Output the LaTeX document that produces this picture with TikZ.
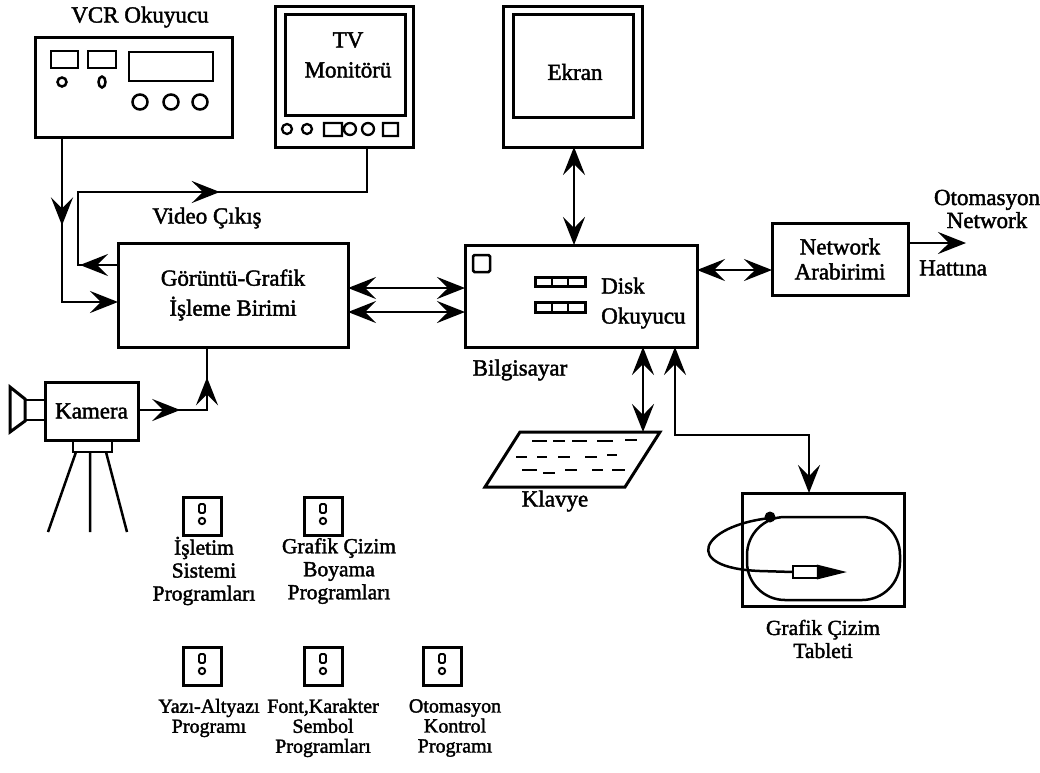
\documentclass[tikz,border=0pt]{standalone}
\usepackage{fontspec}
\setmainfont{Liberation Serif}[FakeBold=1.8]
\usetikzlibrary{arrows.meta,decorations.markings}

\newcommand\mainfs{\fontsize{23}{30}\selectfont}
\newcommand\netfs{\fontsize{23}{25}\selectfont}
\newcommand\smallfs{\fontsize{21.5}{23}\selectfont}
\newcommand\smallfsb{\fontsize{20}{20}\selectfont}

\tikzset{
  >={Stealth[length=28pt,width=22pt,inset=11pt]},
  box/.style={draw, line width=3pt, inner sep=0pt, outer sep=0pt, align=center, font=\mainfs},
  wire/.style={line width=2.6pt, line join=miter},
  part/.style={line width=2.5pt, line join=miter},
  midtip/.style={postaction={decorate, decoration={markings, mark=at position #1 with {\arrow{>}}}}},
  lbl/.style={align=center, inner sep=0pt, font=\mainfs},
  slbl/.style={align=center, inner sep=0pt, font=\smallfs},
  floppy/.pic={
    \draw[line width=3pt] (-19,-19) rectangle (19,19);
    \draw[line width=1.9pt, rounded corners=1.5pt] (-3,-12) rectangle (3,-3);
    \draw[line width=1.9pt] (0,5) circle (3.2pt);
  }
}

\begin{document}
\begin{tikzpicture}[x=1pt,y=-1pt]
\useasboundingbox[fill=white] (0,0) rectangle (1040,772);

% ---------- VCR player ----------
\node[box, minimum width=197pt, minimum height=100pt] (vcr) at (133.5,87) {};
\node[lbl] (vcrlbl) at (140,17) {VCR Okuyucu};
\draw[part] (51,51) rectangle (78,68) (88,51) rectangle (116,68) (129,52) rectangle (213,81);
\draw[part] (62,82) circle (4.5pt);
\draw[part] (102,82) ellipse [x radius=3.5pt, y radius=5.5pt];
\draw[part] (140,102) circle (7.5pt) (171,102) circle (7.5pt) (200,102) circle (7.5pt);

% ---------- TV monitor ----------
\node[box, minimum width=138pt, minimum height=141pt] (tv) at (344,76.5) {};
\node[box, minimum width=120pt, minimum height=101pt] (tvscr) at (345,64.5) {};
\node[lbl] (tvlbl) at (348,55) {TV\\Monitörü};
\draw[line width=2.3pt] (287,129) circle (5pt) (307,129) circle (5pt)
  (324,123) rectangle (342,136) (350,129) circle (6pt) (368,129) circle (6pt)
  (383,123) rectangle (398,136);

% ---------- computer screen ----------
\node[box, minimum width=139pt, minimum height=141pt] (ekr) at (572.5,76.5) {};
\node[box, minimum width=120pt, minimum height=103pt] (ekrscr) at (573,65.5) {};
\node[lbl] (ekrlbl) at (575,72) {Ekran};

% ---------- image/graphics processing unit ----------
\node[box, minimum width=230pt, minimum height=104pt] (grf) at (233,295) {Görüntü-Grafik\\İşleme Birimi};
\node[lbl] (vidlbl) at (207,218) {Video Çıkış};

% ---------- computer ----------
\node[box, minimum width=232pt, minimum height=102pt] (bil) at (581,296) {};
\draw[part, rounded corners=1.5pt] (473,255) rectangle (490,272);
\draw[line width=3pt] (535,277) rectangle (585,286) (535,302) rectangle (585,312);
\draw[line width=1.6pt] (552,277) -- (552,286) (568,277) -- (568,286)
  (552,302) -- (552,312) (568,302) -- (568,312);
\node[lbl, align=left, anchor=west] (disk) at (601,303) {Disk\\Okuyucu};
\node[lbl] (billbl) at (520,370) {Bilgisayar};

% ---------- network interface ----------
\node[box, minimum width=136pt, minimum height=72pt, font=\netfs] (net) at (840,259) {Network\\Arabirimi};
\node[lbl, font=\fontsize{23}{23}\selectfont] (otolbl) at (987,209) {Otomasyon\\Network};
\node[lbl, anchor=west] (hatlbl) at (919,268) {Hattına};

% ---------- camera on tripod ----------
\node[box, minimum width=93pt, minimum height=58pt] (cam) at (91.5,411) {Kamera};
\draw[part] (25,400) rectangle (45,420);
\draw[line width=3pt, line join=miter] (10,387) -- (25,399) -- (25,421) -- (10,432) -- cycle;
\draw[part] (73,440) rectangle (112,452);
\draw[part] (76,452) -- (48,532) (90,452) -- (90,532) (106,452) -- (127,532);

% ---------- keyboard ----------
\draw[line width=3pt, line join=miter] (520,432) -- (660,432) -- (625,487) -- (485,487) -- cycle;
\draw[line width=1.9pt]
  (532,441) -- (547,441) (553,441) -- (565,441) (572,441) -- (587,441) (597,441) -- (613,441) (625,440) -- (637,440)
  (516,457) -- (527,457) (537,457) -- (547,457) (558,457) -- (570,457) (585,457) -- (597,457) (607,455) -- (617,455)
  (522,470) -- (537,470) (543,473) -- (555,473) (565,470) -- (577,470) (592,470) -- (603,470) (612,470) -- (625,470);
\node[lbl] (kblbl) at (555,501) {Klavye};
\coordinate (kbtop) at (643,432);

% ---------- graphics tablet ----------
\node[box, minimum width=162pt, minimum height=113pt] (tab) at (823,549.5) {};
\draw[part, rounded corners=38pt] (747,517) rectangle (900,600);
\draw[part] (770,518) .. controls (700,526) and (680,568) .. (760,571) -- (793,572);
\draw[line width=2.3pt, fill=white] (793,566) rectangle (818,578);
\draw[line width=2.3pt, fill=black, line join=miter] (818,566) -- (842,572) -- (818,578) -- cycle;
\fill (770,517) circle (5.5pt);
\node[slbl] (tablbl) at (823,639) {Grafik Çizim\\Tableti};

% ---------- program disks ----------
\pic at (202,516) {floppy};
\pic at (323,516) {floppy};
\pic at (202,666) {floppy};
\pic at (323,666) {floppy};
\pic at (442,666) {floppy};
\node[slbl] (p1) at (204,571) {İşletim\\Sistemi\\Programları};
\node[slbl] (p2) at (339,571) {Grafik Çizim\\Boyama\\Programları};
\node[slbl, font=\smallfsb] (p3) at (209,718) {Yazı-Altyazı\\Programı};
\node[slbl, font=\smallfsb] (p4) at (323,728) {Font,Karakter\\Sembol\\Programları};
\node[slbl, font=\smallfsb] (p5) at (455,728) {Otomasyon\\Kontrol\\Programı};

% ---------- connections ----------
% VCR into the processing unit
\coordinate (vk) at (62,302);
\draw[wire, ->, midtip=0.40] (vcr.south -| vk) -- (vk) -- (vk -| grf.west);

% video output back to the TV monitor
\coordinate (vo1) at (78,265);
\coordinate (vo2) at (78,192);
\coordinate (tvx) at (367,192);
\draw[wire, midtip=0.085, midtip=0.57] (grf.west |- vo1) -- (vo1) -- (vo2) -- (tvx) -- (tv.south -| tvx);

% camera into the processing unit
\coordinate (ck) at (207,410);
\draw[wire, midtip=0.32, midtip=0.77] (cam.east |- ck) -- (ck) -- (ck |- grf.south);

% processing unit <-> computer
\coordinate (ya) at (0,288);
\coordinate (yb) at (0,312);
\draw[wire, <->] (grf.east |- ya) -- (bil.west |- ya);
\draw[wire, <->] (grf.east |- yb) -- (bil.west |- yb);

% screen <-> computer
\coordinate (xe) at (574,0);
\draw[wire, <->] (ekr.south -| xe) -- (bil.north -| xe);

% computer <-> network interface, and network line out
\coordinate (yn) at (0,270);
\draw[wire, <->] (bil.east |- yn) -- (net.west |- yn);
\coordinate (netout) at (966,243);
\draw[wire, ->] (net.east |- netout) -- (netout);

% computer <-> keyboard
\draw[wire, <->] (bil.south -| kbtop) -- (kbtop);

% computer <-> tablet
\coordinate (t1) at (675,435);
\coordinate (t2) at (809,435);
\draw[wire, <->] (bil.south -| t1) -- (t1) -- (t2) -- (tab.north -| t2);
\end{tikzpicture}
\end{document}
